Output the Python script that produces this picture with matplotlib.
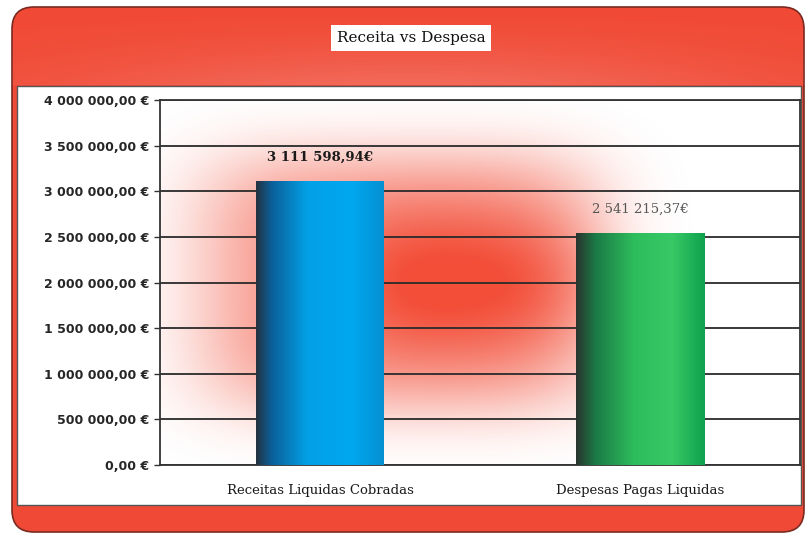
import matplotlib.pyplot as plt
from matplotlib.patches import FancyBboxPatch, Rectangle
from matplotlib.colors import LinearSegmentedColormap
from matplotlib.ticker import FuncFormatter, MultipleLocator
import numpy as np

categories = ['Receitas Liquidas Cobradas', 'Despesas Pagas Liquidas']
values = [3111598.94, 2541215.37]
value_labels = ['3 111 598,94€', '2 541 215,37€']
title = 'Receita vs Despesa'

W, H = 812, 539
FRAME_RED = '#f04a36'

def euro(v, pos=None):
    s = f'{v:,.2f}'.replace(',', ' ').replace('.', ',')
    return s + ' €'

fig = plt.figure(figsize=(W / 100, H / 100), dpi=100)

# background layer in pixel coords for the frame
bg = fig.add_axes([0, 0, 1, 1])
bg.set_xlim(0, W)
bg.set_ylim(H, 0)
bg.axis('off')

frame = FancyBboxPatch((12, 7), W - 20, H - 14,
                       boxstyle='round,pad=0,rounding_size=22',
                       facecolor=FRAME_RED, edgecolor='#7a2a20', linewidth=1.2)
bg.add_patch(frame)

# slightly lighter band towards the bottom of the top strip
gx = np.linspace(0, 1, 300)
gy = np.linspace(0, 1, 100)
GX, GY = np.meshgrid(gx, gy)
glow_a = np.exp(-((GX - 0.5) / 0.45) ** 2) * np.clip(GY, 0, 1) ** 1.5 * 0.18
glow = np.zeros((100, 300, 4))
glow[..., :3] = 1.0
glow[..., 3] = glow_a
im = bg.imshow(glow, extent=(12, W - 8, 85, 7), aspect='auto', zorder=2)
im.set_clip_path(frame)

# white inner panel
bg.add_patch(Rectangle((17, 86), 784, 419, facecolor='white',
                       edgecolor='#555555', linewidth=1.0, zorder=3))

# title box
bg.text(411, 38, title, ha='center', va='center', fontsize=11,
        family='DejaVu Serif', color='#111111', zorder=4,
        bbox=dict(boxstyle='square,pad=0.4', facecolor='white', edgecolor='none'))

# main plot
ax = fig.add_axes([160 / W, 1 - 465 / H, 640 / W, 365 / H])
ax.set_facecolor('none')

# red blurred glow behind the bars
nx, ny = 400, 300
xx = np.linspace(0, 1, nx)
yy = np.linspace(0, 1, ny)
XX, YY = np.meshgrid(xx, yy)
red_a = np.exp(-((XX - 0.37) / 0.31) ** 4) * np.exp(-((YY - 0.5) / 0.36) ** 4) * 0.62
red_a += np.exp(-((XX - 0.5) / 0.2) ** 4) * np.exp(-((YY - 0.5) / 0.2) ** 2) * 0.38
red_a = np.clip(red_a, 0, 0.95)
red = np.zeros((ny, nx, 4))
red[..., 0] = 0.95
red[..., 1] = 0.27
red[..., 2] = 0.18
red[..., 3] = red_a
ax.imshow(red, extent=(0, 1, 0, 1), transform=ax.transAxes, aspect='auto',
          origin='lower', zorder=0)

ax.yaxis.set_major_locator(MultipleLocator(500000))
ax.yaxis.set_major_formatter(FuncFormatter(euro))
ax.grid(axis='y', color='#2a2a2a', linewidth=1.3, zorder=1)
ax.set_axisbelow(True)

bar_cmaps = [
    LinearSegmentedColormap.from_list(
        'blue', [(0, '#253240'), (0.12, '#0b5f98'), (0.4, '#03a0e6'),
                 (0.75, '#00a8f0'), (1, '#0690d2')]),
    LinearSegmentedColormap.from_list(
        'green', [(0, '#2a332e'), (0.15, '#1b7a46'), (0.45, '#2ebd5c'),
                  (0.75, '#38c865'), (1, '#0fa24e')]),
]
bars = ax.bar(range(len(categories)), values, width=0.4, color='none', zorder=2)
grad = np.linspace(0, 1, 256).reshape(1, -1)
for bar, cmap in zip(bars, bar_cmaps):
    x0 = bar.get_x()
    ax.imshow(grad, cmap=cmap, aspect='auto', zorder=3,
              extent=(x0, x0 + bar.get_width(), 0, bar.get_height()))

ax.set_xlim(-0.5, 1.5)
ax.set_ylim(0, 4000000)

label_styles = [dict(color='#1a1a1a', fontweight='bold'), dict(color='#555555', fontweight='normal')]
for bar, lab, st in zip(bars, value_labels, label_styles):
    ax.text(bar.get_x() + bar.get_width() / 2, bar.get_height() + 190000, lab,
            ha='center', va='bottom', fontsize=9.5, family='DejaVu Serif', **st)

ax.set_xticks(range(len(categories)))
ax.set_xticklabels(categories, family='DejaVu Serif', fontsize=9.5, color='#1a1a1a')
ax.tick_params(axis='x', length=0, pad=14)
ax.tick_params(axis='y', length=4, width=1, color='#333333', labelsize=9, labelcolor='#262626')
for t in ax.get_yticklabels():
    t.set_fontweight('bold')

for s in ax.spines.values():
    s.set_color('#333333')
    s.set_linewidth(1.3)

fig.savefig('out.png', dpi=100)
